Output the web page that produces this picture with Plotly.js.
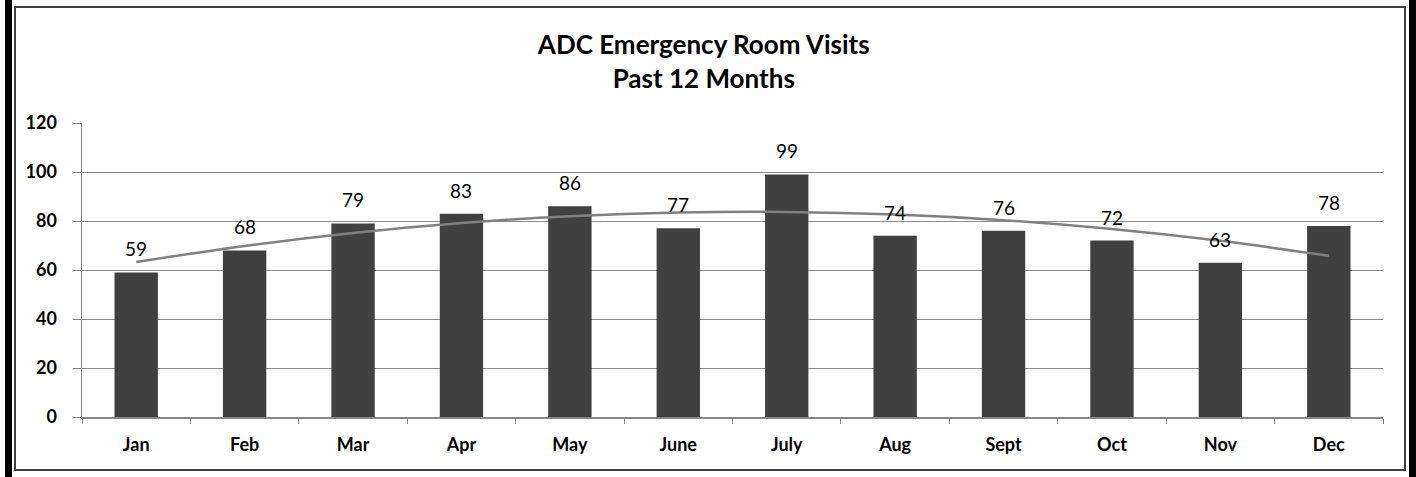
<!DOCTYPE html>
<html>
<head>
<meta charset="utf-8">
<script src="https://cdn.plot.ly/plotly-3.0.1.min.js"></script>
<style>
  html, body { margin: 0; padding: 0; background: #fff; }
  body { width: 1416px; height: 477px; position: relative; overflow: hidden; }
  .bar-l { position: absolute; left: 5px; top: 0; width: 7px; height: 477px; background: #000; }
  .bar-r { position: absolute; left: 1409px; top: 0; width: 7px; height: 477px; background: #000; }
  .frame { position: absolute; left: 14px; top: 6px; width: 1392px; height: 465px; box-sizing: border-box; border: 2px solid #404040; }
  #chart { position: absolute; left: 0; top: 0; width: 1416px; height: 477px; }
</style>
</head>
<body>
<div class="bar-l"></div>
<div class="bar-r"></div>
<div class="frame"></div>
<div id="chart"></div>
<script>
const months = ["Jan","Feb","Mar","Apr","May","June","July","Aug","Sept","Oct","Nov","Dec"];
const visits = [59, 68, 79, 83, 86, 77, 99, 74, 76, 72, 63, 78];
const yTicks = [0, 20, 40, 60, 80, 100, 120];

// Polynomial (order 2) trendline, least squares fit on the data
function quadFit(ys) {
  const n = ys.length;
  let S = [0,0,0,0,0], T = [0,0,0];
  for (let i = 0; i < n; i++) {
    const x = i + 1;
    for (let k = 0; k <= 4; k++) S[k] += Math.pow(x, k);
    for (let k = 0; k <= 2; k++) T[k] += Math.pow(x, k) * ys[i];
  }
  const A = [[S[0],S[1],S[2],T[0]],[S[1],S[2],S[3],T[1]],[S[2],S[3],S[4],T[2]]];
  for (let c = 0; c < 3; c++) {
    for (let r = c + 1; r < 3; r++) {
      const f = A[r][c] / A[c][c];
      for (let k = c; k < 4; k++) A[r][k] -= f * A[c][k];
    }
  }
  const coef = [0,0,0];
  for (let r = 2; r >= 0; r--) {
    let s = A[r][3];
    for (let k = r + 1; k < 3; k++) s -= A[r][k] * coef[k];
    coef[r] = s / A[r][r];
  }
  return ys.map((_, i) => coef[0] + coef[1] * (i + 1) + coef[2] * (i + 1) * (i + 1));
}
const trend = quadFit(visits);

const FONT = "Lato, 'Open Sans', sans-serif";

const traces = [
  {
    type: "bar",
    x: months,
    y: visits,
    marker: { color: "#404040", line: { width: 0 } },
    hoverinfo: "skip"
  },
  {
    type: "scatter",
    mode: "lines",
    x: months,
    y: trend,
    line: { color: "#808080", width: 2.5, shape: "spline" },
    hoverinfo: "skip"
  }
];

const annotations = months.map((m, i) => ({
  x: m, y: visits[i], xref: "x", yref: "y",
  text: String(visits[i]),
  showarrow: false,
  yanchor: "bottom",
  yshift: 10,
  font: { family: FONT, size: 19, color: "#000" }
}));

const layout = {
  width: 1416,
  height: 477,
  paper_bgcolor: "rgba(0,0,0,0)",
  plot_bgcolor: "rgba(0,0,0,0)",
  showlegend: false,
  margin: { l: 82, r: 33, t: 123, b: 60 },
  bargap: 0.6,
  title: {
    text: "<b>ADC Emergency Room Visits<br>Past 12 Months</b>",
    font: { family: FONT, size: 26, color: "#000" },
    x: 0.497, xref: "container", xanchor: "center",
    y: 0.886, yref: "container", yanchor: "top"
  },
  xaxis: {
    type: "category",
    showgrid: false,
    showline: true,
    linecolor: "#868686",
    linewidth: 1.5,
    ticks: "outside",
    tickson: "boundaries",
    ticklen: 5,
    tickcolor: "#868686",
    tickfont: { family: FONT, size: 18, color: "#000", weight: "bold" },
    ticklabelstandoff: 11,
    fixedrange: true
  },
  yaxis: {
    range: [0, 120],
    tickvals: yTicks,
    ticktext: yTicks.map(String),
    showgrid: true,
    gridcolor: "#8c8c8c",
    gridwidth: 1,
    zeroline: false,
    showline: true,
    linecolor: "#868686",
    linewidth: 1.5,
    ticks: "outside",
    ticklen: 8,
    tickcolor: "#868686",
    tickfont: { family: FONT, size: 18, color: "#000", weight: "bold" },
    ticklabelstandoff: 12,
    fixedrange: true
  },
  annotations: annotations
};

Plotly.newPlot("chart", traces, layout, { displayModeBar: false, staticPlot: true });
</script>
</body>
</html>
